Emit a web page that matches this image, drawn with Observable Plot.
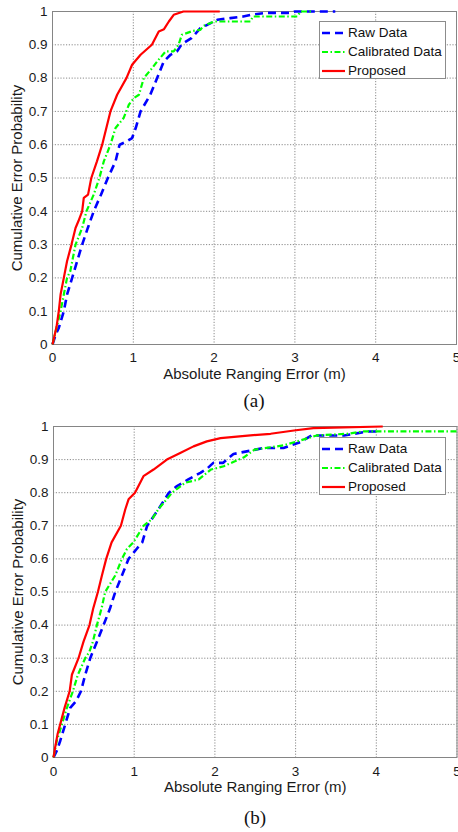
<!DOCTYPE html>
<html>
<head>
<meta charset="utf-8">
<script src="https://cdn.jsdelivr.net/npm/d3@7"></script>
<script src="https://cdn.jsdelivr.net/npm/@observablehq/plot@0.6"></script>
<style>
  html, body { margin: 0; padding: 0; background: #fff; }
  #wrap { position: relative; width: 458px; height: 832px; overflow: hidden; font-family: "Liberation Sans", Arial, sans-serif; }
  .panel { position: absolute; left: 0; }
  .panel g[aria-label="x-axis tick label"], .panel g[aria-label="y-axis tick label"] { font-size: 13.5px; }
  .caption { position: absolute; font-family: "Liberation Serif", "Times New Roman", serif; font-size: 19px; color: #111; transform: translate(-50%, -50%); white-space: nowrap; }
  .legend { position: absolute; width: 127px; height: 58px; border: 1px solid #8c8c8c; background: #fff; box-sizing: border-box; }
  .legend .row { position: absolute; left: 0; height: 18px; display: flex; align-items: center; font-size: 13.5px; color: #111; white-space: nowrap; }
  .legend svg { margin-left: 2px; margin-right: 3px; }
</style>
</head>
<body>
<div id="wrap"></div>
<script>
// ---------- shared labels / ticks ----------
const xTicks = [0, 1, 2, 3, 4, 5];
const yTicks = [0, 0.1, 0.2, 0.3, 0.4, 0.5, 0.6, 0.7, 0.8, 0.9, 1];
const xTitle = "Absolute Ranging Error (m)";
const yTitle = "Cumulative Error Probability";
const seriesNames = ["Raw Data", "Calibrated Data", "Proposed"];
const seriesColors = ["#0000ff", "#00ff00", "#ff0000"];
const captions = ["(a)", "(b)"];

// ---------- panel (a) ----------
const aRawX = [0, 0.04, 0.078, 0.14, 0.18, 0.243, 0.305, 0.367, 0.437, 0.51, 0.6, 0.685, 0.78, 0.83, 0.92, 0.985, 1.03, 1.09, 1.21, 1.295, 1.377, 1.46, 1.54, 1.6, 1.72, 1.83, 1.89, 2.04, 2.2, 2.36, 2.45, 2.65, 2.94, 3.0, 3.5];
const aRawY = [0, 0.03, 0.05, 0.1, 0.15, 0.2, 0.25, 0.3, 0.35, 0.4, 0.45, 0.5, 0.55, 0.6, 0.61, 0.62, 0.65, 0.7, 0.75, 0.8, 0.85, 0.87, 0.88, 0.902, 0.92, 0.95, 0.957, 0.975, 0.98, 0.985, 0.99, 0.996, 0.996, 1.0, 1.0];
const aCalX = [0, 0.05, 0.1, 0.14, 0.18, 0.22, 0.285, 0.367, 0.42, 0.51, 0.58, 0.635, 0.717, 0.78, 0.88, 0.945, 1.006, 1.07, 1.13, 1.233, 1.295, 1.4, 1.5, 1.56, 1.6, 1.66, 1.74, 1.83, 1.87, 2.0, 2.45, 2.48, 3.03, 3.07, 3.2];
const aCalY = [0, 0.05, 0.1, 0.15, 0.2, 0.22, 0.3, 0.35, 0.4, 0.45, 0.5, 0.55, 0.6, 0.65, 0.68, 0.72, 0.74, 0.75, 0.8, 0.83, 0.85, 0.88, 0.88, 0.9, 0.93, 0.935, 0.942, 0.945, 0.957, 0.97, 0.97, 0.985, 0.985, 1.0, 1.0];
const aPropX = [0, 0.05, 0.078, 0.1, 0.14, 0.18, 0.235, 0.285, 0.32, 0.367, 0.387, 0.44, 0.48, 0.55, 0.615, 0.717, 0.8, 0.915, 0.985, 1.09, 1.23, 1.315, 1.38, 1.44, 1.5, 1.62, 2.07];
const aPropY = [0, 0.053, 0.1, 0.15, 0.2, 0.25, 0.3, 0.35, 0.37, 0.4, 0.44, 0.45, 0.5, 0.55, 0.6, 0.7, 0.75, 0.8, 0.84, 0.87, 0.9, 0.94, 0.947, 0.97, 0.99, 1.0, 1.0];

// ---------- panel (b) ----------
const bRawX = [0, 0.04, 0.083, 0.145, 0.207, 0.28, 0.34, 0.393, 0.455, 0.538, 0.62, 0.7, 0.765, 0.848, 0.93, 1.03, 1.1, 1.16, 1.3, 1.43, 1.53, 1.67, 1.82, 1.9, 1.98, 2.1, 2.23, 2.44, 2.6, 2.85, 3.06, 3.2, 3.6, 3.9, 4.05];
const bRawY = [0, 0.02, 0.05, 0.1, 0.15, 0.17, 0.2, 0.25, 0.3, 0.35, 0.4, 0.45, 0.5, 0.55, 0.6, 0.63, 0.65, 0.7, 0.75, 0.8, 0.82, 0.84, 0.86, 0.872, 0.89, 0.89, 0.917, 0.927, 0.935, 0.935, 0.953, 0.973, 0.973, 0.985, 0.985];
const bCalX = [0, 0.04, 0.104, 0.166, 0.24, 0.302, 0.393, 0.446, 0.488, 0.538, 0.595, 0.64, 0.765, 0.848, 0.91, 0.99, 1.115, 1.22, 1.3, 1.47, 1.63, 1.8, 1.95, 2.11, 2.36, 2.49, 2.85, 3.06, 3.26, 3.64, 3.84, 5.0];
const bCalY = [0, 0.05, 0.1, 0.15, 0.2, 0.25, 0.3, 0.32, 0.35, 0.4, 0.45, 0.5, 0.55, 0.6, 0.63, 0.65, 0.7, 0.72, 0.75, 0.8, 0.83, 0.84, 0.87, 0.88, 0.907, 0.93, 0.943, 0.958, 0.973, 0.978, 0.985, 0.985];
const bPropX = [0, 0.02, 0.05, 0.083, 0.137, 0.2, 0.228, 0.31, 0.372, 0.446, 0.492, 0.55, 0.6, 0.653, 0.72, 0.835, 0.89, 0.93, 1.01, 1.115, 1.24, 1.405, 1.57, 1.735, 1.9, 2.07, 2.44, 2.69, 2.98, 3.22, 4.08];
const bPropY = [0, 0.03, 0.07, 0.1, 0.15, 0.2, 0.25, 0.3, 0.35, 0.4, 0.45, 0.5, 0.55, 0.6, 0.65, 0.7, 0.75, 0.78, 0.8, 0.85, 0.87, 0.9, 0.92, 0.94, 0.955, 0.965, 0.973, 0.978, 0.988, 0.995, 1.0];

const toPoints = (xs, ys) => xs.map((x, i) => ({x, y: ys[i]}));

const lineStyles = [
  {strokeWidth: 2.6, strokeDasharray: "8,5"},
  {strokeWidth: 2.2, strokeDasharray: "6,2.5,1.5,2.5"},
  {strokeWidth: 2.2, strokeDasharray: null}
];

function panel(series, opts) {
  const marks = [
    Plot.gridX(xTicks, {stroke: "#8a8a8a", strokeOpacity: 1, strokeWidth: 1, strokeDasharray: "1.2,1.6"}),
    Plot.gridY(yTicks, {stroke: "#8a8a8a", strokeOpacity: 1, strokeWidth: 1, strokeDasharray: "1.2,1.6"}),
    Plot.frame({stroke: "#858585", strokeWidth: 1}),
    Plot.axisX(xTicks, {tickSize: 0, tickPadding: opts.xPad, fontSize: 13.5, fill: "#1a1a1a", label: null, tickFormat: d => String(d)}),
    Plot.axisY(yTicks, {tickSize: 0, tickPadding: 5, fontSize: 13.5, fill: "#1a1a1a", label: null, tickFormat: d => String(+d.toFixed(1))}),
    Plot.text([xTitle], {frameAnchor: "bottom", dy: opts.titleDy, textAnchor: "middle", lineAnchor: "middle", fontSize: 15, fill: "#1a1a1a"}),
    Plot.text([yTitle], {frameAnchor: "left", dx: opts.yTitleDx, rotate: -90, textAnchor: "middle", lineAnchor: "middle", fontSize: 15, fill: "#1a1a1a"})
  ];
  series.forEach((pts, i) => {
    marks.push(Plot.line(pts, {x: "x", y: "y", stroke: seriesColors[i], ...lineStyles[i], strokeLinejoin: "miter", strokeLinecap: "butt"}));
  });
  return Plot.plot({
    width: 458,
    height: opts.height,
    marginTop: opts.mt,
    marginBottom: opts.mb,
    marginLeft: opts.ml,
    marginRight: opts.mr,
    x: {domain: [0, 5]},
    y: {domain: [0, 1]},
    style: {fontFamily: "'Liberation Sans', Arial, sans-serif", fontSize: "13.5px", background: "#fff", overflow: "visible"},
    marks
  });
}

function legend(top) {
  const lg = document.createElement("div");
  lg.className = "legend";
  lg.style.left = "319px";
  lg.style.top = top + "px";
  seriesNames.forEach((name, i) => {
    const row = document.createElement("div");
    row.className = "row";
    row.style.top = (1.5 + i * 19) + "px";
    const ls = lineStyles[i];
    row.innerHTML = `<svg width="23" height="6"><line x1="0" y1="3" x2="23" y2="3" stroke="${seriesColors[i]}" stroke-width="${ls.strokeWidth}" ${ls.strokeDasharray ? `stroke-dasharray="${ls.strokeDasharray}"` : ""}/></svg><span>${name}</span>`;
    lg.appendChild(row);
  });
  return lg;
}

function caption(text, cx, cy) {
  const c = document.createElement("div");
  c.className = "caption";
  c.textContent = text;
  c.style.left = cx + "px";
  c.style.top = cy + "px";
  return c;
}

const wrap = document.getElementById("wrap");

const pa = panel([toPoints(aRawX, aRawY), toPoints(aCalX, aCalY), toPoints(aPropX, aPropY)],
  {height: 385, mt: 11, mb: 41, ml: 52, mr: 2, xPad: 8, titleDy: 30, yTitleDx: -35});
pa.classList.add("panel");
pa.style.top = "0px";
wrap.appendChild(pa);
wrap.appendChild(legend(21));
wrap.appendChild(caption(captions[0], 254, 401));

const pb = panel([toPoints(bRawX, bRawY), toPoints(bCalX, bCalY), toPoints(bPropX, bPropY)],
  {height: 382, mt: 11, mb: 40, ml: 53, mr: 1.5, xPad: 8.5, titleDy: 29.5, yTitleDx: -35});
pb.classList.add("panel");
pb.style.top = "415px";
wrap.appendChild(pb);
wrap.appendChild(legend(437));
wrap.appendChild(caption(captions[1], 255, 818));
</script>
</body>
</html>
